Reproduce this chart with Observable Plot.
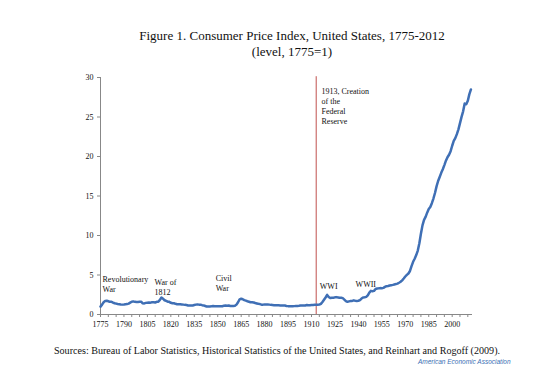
<!DOCTYPE html>
<html>
<head>
<meta charset="utf-8">
<script src="https://cdn.jsdelivr.net/npm/d3@7"></script>
<script src="https://cdn.jsdelivr.net/npm/@observablehq/plot@0.6"></script>
<style>
  html, body { margin: 0; padding: 0; background: #fff; }
  #wrap { position: relative; width: 550px; height: 367px; overflow: hidden; font-family: "Liberation Serif", "Times New Roman", serif; }
  .t { position: absolute; left: 0; width: 584px; text-align: center; color: #111; white-space: nowrap; }
  #title { top: 28px; font-size: 13px; line-height: 16px; }
  #caption { top: 345px; font-size: 10.1px; left: -15px; }
  #aea { position: absolute; top: 358px; left: 418px; font-size: 6.5px; line-height: 8px; color: #3a6fb4; font-style: italic; font-family: "Liberation Sans", sans-serif; }
  #chart { position: absolute; left: 0; top: 0; }
</style>
</head>
<body>
<div id="wrap">
  <div id="chart"></div>
  <div class="t" id="title">Figure 1. Consumer Price Index, United States, 1775-2012<br>(level, 1775=1)</div>
  <div class="t" id="caption">Sources: Bureau of Labor Statistics, Historical Statistics of the United States, and Reinhart and Rogoff (2009).</div>
  <div id="aea">American Economic Association</div>
</div>
<script>
// Years 1775..2012
const years = d3.range(1775, 2013);
// CPI level, 1775 = 1
const cpi = [
  // 1775-1799
  1.00, 1.25, 1.55, 1.72, 1.75, 1.68, 1.60, 1.62, 1.50, 1.42,
  1.38, 1.33, 1.30, 1.27, 1.25, 1.27, 1.30, 1.32, 1.38, 1.50,
  1.62, 1.66, 1.60, 1.58, 1.58,
  // 1800-1824
  1.60, 1.62, 1.42, 1.40, 1.47, 1.50, 1.52, 1.50, 1.55, 1.55,
  1.52, 1.60, 1.62, 1.85, 2.15, 2.00, 1.80, 1.72, 1.62, 1.60,
  1.48, 1.42, 1.42, 1.35, 1.30,
  // 1825-1849
  1.30, 1.30, 1.28, 1.25, 1.22, 1.20, 1.15, 1.15, 1.13, 1.15,
  1.20, 1.25, 1.28, 1.25, 1.25, 1.18, 1.15, 1.08, 1.00, 1.00,
  1.02, 1.03, 1.08, 1.05, 1.03,
  // 1850-1874
  1.03, 1.05, 1.05, 1.05, 1.12, 1.15, 1.12, 1.15, 1.08, 1.08,
  1.08, 1.10, 1.25, 1.55, 1.92, 2.00, 1.93, 1.82, 1.75, 1.68,
  1.62, 1.55, 1.55, 1.52, 1.45,
  // 1875-1899
  1.40, 1.35, 1.32, 1.25, 1.25, 1.28, 1.28, 1.28, 1.25, 1.22,
  1.20, 1.18, 1.18, 1.18, 1.17, 1.15, 1.15, 1.15, 1.13, 1.08,
  1.06, 1.06, 1.05, 1.05, 1.06,
  // 1900-1924
  1.08, 1.08, 1.10, 1.13, 1.13, 1.13, 1.15, 1.20, 1.18, 1.17,
  1.20, 1.20, 1.22, 1.23, 1.24, 1.25, 1.35, 1.59, 1.87, 2.15,
  2.48, 2.22, 2.08, 2.12, 2.12,
  // 1925-1949
  2.17, 2.20, 2.16, 2.12, 2.12, 2.07, 1.89, 1.70, 1.61, 1.66,
  1.70, 1.72, 1.79, 1.75, 1.72, 1.74, 1.82, 2.02, 2.15, 2.18,
  2.23, 2.42, 2.77, 2.99, 2.95,
  // 1950-1974
  2.99, 3.23, 3.29, 3.31, 3.34, 3.33, 3.37, 3.49, 3.59, 3.61,
  3.67, 3.71, 3.75, 3.80, 3.85, 3.91, 4.02, 4.14, 4.32, 4.55,
  4.81, 5.02, 5.19, 5.51, 6.12,
  // 1975-1999
  6.67, 7.06, 7.52, 8.09, 9.01, 10.22, 11.28, 11.97, 12.36, 12.89,
  13.35, 13.60, 14.09, 14.68, 15.38, 16.22, 16.90, 17.41, 17.93, 18.39,
  18.91, 19.47, 19.91, 20.22, 20.67,
  // 2000-2012
  21.36, 21.97, 22.32, 22.83, 23.44, 24.23, 25.01, 25.72, 26.71, 26.61,
  27.06, 27.90, 28.49
];
const yTicks = [0, 5, 10, 15, 20, 25, 30];
const xTicks = d3.range(1775, 2015, 5);
const xLabelStep = 15;

// Annotations
const noteText = ["Revolutionary\nWar", "War of\n1812", "Civil\nWar", "WWI", "WWII", "1913, Creation\nof the\nFederal\nReserve"];
const noteYear = [1776.3, 1809.6, 1848.7, 1915.3, 1938.2, 1916.4];
const noteLevel = [5.0, 4.68, 5.13, 4.11, 4.37, 28.86];
const fedYear = 1913;

const series = years.map((y, i) => ({year: y, cpi: cpi[i]}));
const notes = noteText.map((t, i) => ({text: t, year: noteYear[i], level: noteLevel[i]}));

const chart = Plot.plot({
  width: 550,
  height: 367,
  marginLeft: 100,
  marginRight: 78,
  marginTop: 77,
  marginBottom: 53,
  style: {fontFamily: "'Liberation Serif', 'Times New Roman', serif", fontSize: "8px", color: "#111", background: "transparent"},
  x: {domain: [1775, 2013], label: null},
  y: {domain: [0, 30], label: null},
  marks: [
    Plot.ruleX([fedYear], {y1: 0, y2: 30.1, stroke: "#c0504d", strokeWidth: 1}),
    Plot.ruleY([0], {x1: 1775, x2: 2013, stroke: "#888", strokeWidth: 1}),
    Plot.ruleX([1775], {y1: 0, y2: 30, stroke: "#888", strokeWidth: 1}),
    Plot.axisY({ticks: yTicks, tickSize: 3, tickPadding: 4, stroke: "#888", fontSize: 8}),
    Plot.axisX({ticks: xTicks, tickSize: 3, tickPadding: 4, stroke: "#888", fontSize: 8,
      tickFormat: d => ((d - 1775) % xLabelStep === 0 ? String(d) : "")}),
    Plot.line(series, {x: "year", y: "cpi", stroke: "#3f6fb5", strokeWidth: 2.5, strokeLinejoin: "round"}),
    Plot.text(notes, {x: "year", y: "level", text: "text", textAnchor: "start", lineAnchor: "top", lineHeight: 1.25, fontSize: 8, fill: "#111"})
  ]
});
document.getElementById("chart").appendChild(chart);
</script>
</body>
</html>
